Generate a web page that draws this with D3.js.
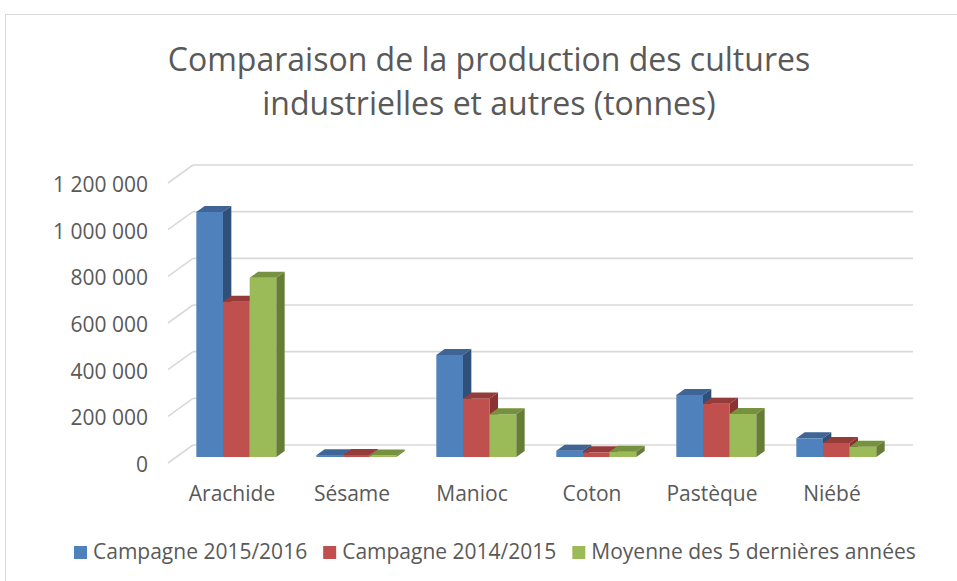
<!DOCTYPE html>
<html><head><meta charset="utf-8">
<script src="https://cdn.jsdelivr.net/npm/d3@7"></script>
<style>body{margin:0;background:#fff}svg{display:block}</style>
</head><body>
<svg id="c" width="957" height="581"></svg>
<script>
const categories = ["Arachide","Sésame","Manioc","Coton","Pastèque","Niébé"];
const seriesNames = ["Campagne 2015/2016","Campagne 2014/2015","Moyenne des 5 dernières années"];
const campagne2015 = [1050000, 8000, 437000, 27000, 266000, 80000];
const campagne2014 = [665000, 9000, 251000, 20000, 228000, 60000];
const moyenne5 = [768000, 6000, 183000, 23000, 184000, 44000];
const tickValues = [0, 200000, 400000, 600000, 800000, 1000000, 1200000];
const titleLines = ["Comparaison de la production des cultures","industrielles et autres (tonnes)"];

const seriesValues = [campagne2015, campagne2014, moyenne5];
const colors = [
  {front:"#4f81bd", top:"#3e6595", side:"#2f5079"},
  {front:"#c0504d", top:"#953b39", side:"#8a3330"},
  {front:"#9bbb59", top:"#77923f", side:"#677d36"}
];

const svg = d3.select("#c");
const font = "'Open Sans', sans-serif";
const textColor = "#595959";

// chart border
svg.append("rect").attr("x",5.5).attr("y",14.5).attr("width",1000).attr("height",700)
  .attr("fill","#fff").attr("stroke","#d9d9d9").attr("stroke-width",1);

// title
svg.append("g").selectAll("text").data(titleLines).join("text")
  .attr("x",489).attr("y",(d,i)=>71+i*44)
  .attr("text-anchor","middle").attr("font-family",font).attr("font-size",32)
  .attr("fill",textColor).text(d=>d);

// 3D geometry (oblique projection)
const DX = 25, DY = -18; // full depth offset front->back wall
const x = d3.scaleBand().domain(categories).range([168, 888]).paddingInner(1/3).paddingOuter(1/6);
const xs = d3.scaleBand().domain(d3.range(seriesNames.length)).range([0, x.bandwidth()]);
const y = d3.scaleLinear().domain([0, 1200000]).range([463, 183]);
const fmt = d3.formatLocale({decimal:",", thousands:" ", grouping:[3], currency:["",""]}).format(",");

// gridlines: back wall + left wall diagonals
const grid = svg.append("g").attr("stroke","#d9d9d9").attr("stroke-width",1.6).attr("fill","none");
tickValues.forEach(t=>{
  const yf = y(t), yb = y(t)+DY;
  grid.append("line").attr("x1",168+DX).attr("x2",888+DX).attr("y1",yb).attr("y2",yb);
  grid.append("line").attr("x1",168).attr("x2",168+DX).attr("y1",yf).attr("y2",yb);
});

// y labels
svg.append("g").selectAll("text").data(tickValues).join("text")
  .attr("x",148).attr("y",d=>y(d)+9).attr("text-anchor","end")
  .attr("font-family",font).attr("font-size",21).attr("fill",textColor)
  .text(d=>fmt(d));

// bars
const d1x = DX/3, d1y = DY/3;   // front face offset
const bdx = DX/3, bdy = DY/3;   // bar depth
const bars = svg.append("g");
categories.forEach((c,ci)=>{
  seriesValues.forEach((vals,si)=>{
    const v = vals[ci];
    const x0 = x(c) + xs(si) + d1x, x1 = x0 + xs.bandwidth();
    const yb = y(0) + d1y, yt = y(v) + d1y;
    const col = colors[si];
    const g = bars.append("g");
    g.append("path").attr("fill",col.front)
      .attr("d",`M${x0},${yb}L${x1},${yb}L${x1},${yt}L${x0},${yt}Z`);
    g.append("path").attr("fill",col.top)
      .attr("d",`M${x0},${yt}L${x1},${yt}L${x1+bdx},${yt+bdy}L${x0+bdx},${yt+bdy}Z`);
    g.append("path").attr("fill",col.side)
      .attr("d",`M${x1},${yb}L${x1+bdx},${yb+bdy}L${x1+bdx},${yt+bdy}L${x1},${yt}Z`);
  });
});

// category labels
svg.append("g").selectAll("text").data(categories).join("text")
  .attr("x",d=>x(d)+x.bandwidth()/2+4).attr("y",501).attr("text-anchor","middle")
  .attr("font-family",font).attr("font-size",21).attr("fill",textColor).text(d=>d);

// legend
const leg = svg.append("g");
let lx = 74;
seriesNames.forEach((n,i)=>{
  leg.append("rect").attr("x",lx).attr("y",546).attr("width",13).attr("height",13).attr("fill",colors[i].front);
  const t = leg.append("text").attr("x",lx+19).attr("y",558.5)
    .attr("font-family",font).attr("font-size",21).attr("fill",textColor).text(n);
  lx += 19 + t.node().getComputedTextLength() + 16;
});
</script>
</body></html>
